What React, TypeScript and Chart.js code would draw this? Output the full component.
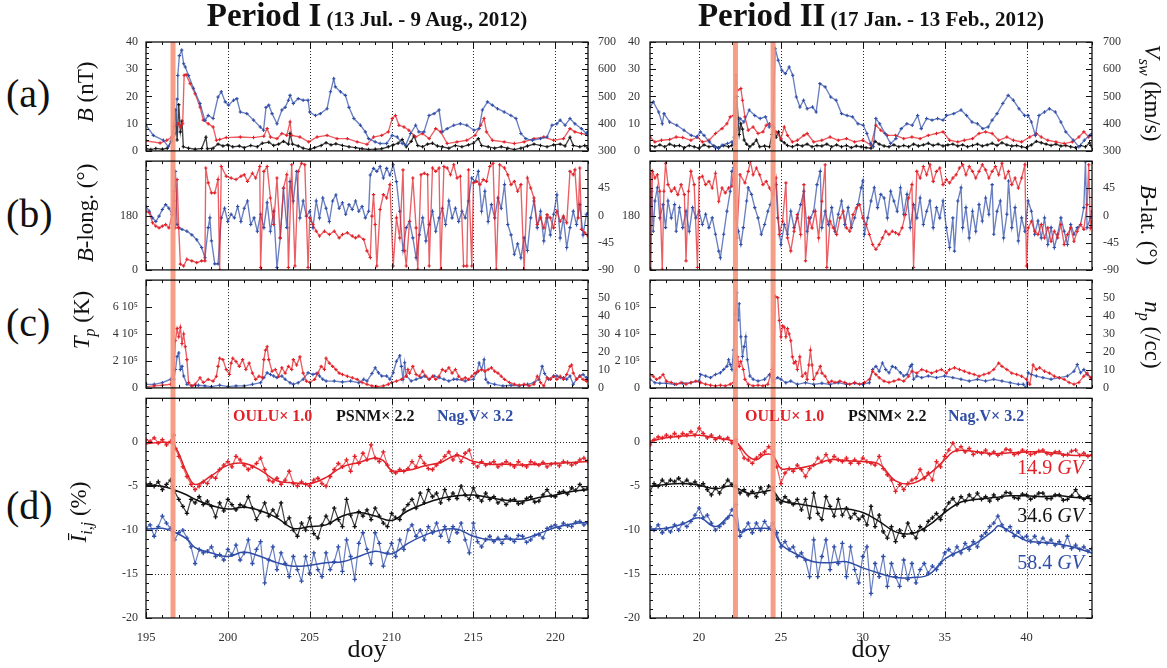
import React, { useEffect, useRef } from 'react';
import { Chart, registerables } from 'chart.js';
Chart.register(...registerables);

type Pt = [number, number];

const FONT = '"Liberation Serif", "Times New Roman", serif';
const RED = 'rgb(226,32,40)';
const RED_L = 'rgba(226,32,40,0.72)';
const BLUE = 'rgb(48,78,168)';
const BLUE_L = 'rgba(48,78,168,0.72)';
const BLACK = 'rgb(17,17,17)';
const BLACK_L = 'rgba(17,17,17,0.8)';
const BAND = 'rgba(244,150,126,0.92)';

// ---------------- Period I (doy 195-222) ----------------
const daysI: [number, number] = [195, 222];
const eventsI = [196.65];

const vswI: Pt[] = [[195.0,395],[195.45,357],[196.06,339],[196.37,315],[196.57,340],[196.8,364],[196.9,490],[196.94,577],[197.04,650],[197.18,670],[197.3,620],[197.4,608],[197.6,577],[197.9,530],[198.3,474],[198.6,412],[198.8,430],[199.1,419],[199.4,498],[199.6,517],[199.84,480],[200.04,468],[200.35,486],[200.55,492],[200.76,443],[201.16,437],[201.57,413],[201.98,388],[202.18,376],[202.33,460],[202.5,468],[202.7,437],[203.0,400],[203.3,450],[203.5,460],[203.7,486],[203.8,504],[204.0,474],[204.3,492],[204.6,486],[204.9,486],[205.0,443],[205.35,430],[205.65,437],[206.06,455],[206.27,517],[206.47,565],[206.57,535],[206.88,517],[207.18,504],[207.4,460],[207.7,419],[208.1,394],[208.4,370],[208.6,345],[209.0,333],[209.3,327],[209.7,327],[210.04,357],[210.35,351],[210.65,327],[210.86,320],[211.16,364],[211.47,394],[211.67,370],[211.98,370],[212.29,430],[212.6,437],[212.9,450],[213.1,370],[213.4,382],[213.8,394],[214.2,400],[214.6,394],[215.04,376],[215.35,382],[215.55,450],[215.86,480],[216.16,468],[216.47,455],[216.88,443],[217.29,430],[217.6,419],[217.9,364],[218.2,345],[218.6,339],[219.1,345],[219.5,351],[219.8,394],[220.1,400],[220.3,413],[220.6,394],[220.9,419],[221.2,400],[221.6,382],[221.9,364],[222.0,370]];

const bI: Pt[] = [[195.0,3.7],[195.86,2.9],[196.27,3.9],[196.57,5.1],[196.78,9.4],[196.98,10],[197.1,8.8],[197.24,10],[197.33,27.8],[197.45,28],[197.7,24.7],[198.0,21],[198.3,16.1],[198.5,11.3],[198.8,10],[199.1,8.8],[199.3,3.9],[199.5,4.2],[199.9,4.9],[200.76,5.1],[201.57,4.9],[202.2,5.4],[202.4,8.2],[202.6,5.1],[203.0,4.5],[203.3,6.4],[203.6,5.7],[203.8,10.6],[203.9,5.7],[204.4,5.1],[204.94,3.3],[205.45,5.1],[206.06,5.7],[206.67,4.5],[207.3,4.5],[207.9,3.3],[208.5,2.4],[208.9,5.1],[209.4,5.7],[209.8,7],[210.04,11.9],[210.24,13],[210.45,9.4],[210.76,8.8],[211.06,7.6],[211.47,5.1],[211.88,6.4],[212.3,4.5],[212.7,8.2],[213.0,7],[213.4,2.7],[214.0,3.3],[214.6,3.9],[215.1,5.7],[215.45,9.4],[215.65,11.9],[215.8,7],[216.16,3.9],[216.88,3.3],[217.5,2.7],[218.1,3.3],[218.7,4.5],[219.3,5.1],[219.9,3.9],[220.5,4.5],[220.9,8.2],[221.2,7],[221.6,6.4],[222.0,5.7]];

const dbI: Pt[] = [[195.0,0.8],[195.3,0.5],[195.6,0.9],[196.0,0.6],[196.3,1.0],[196.55,3.5],[196.7,9],[196.8,15],[196.9,4],[197.0,17],[197.1,7],[197.2,11],[197.28,1.5],[197.6,1.0],[198.0,0.6],[198.4,0.9],[198.66,5],[198.75,0.8],[199.1,1.0],[199.4,2.5],[199.7,1.8],[200.0,2.2],[200.3,1.5],[200.7,1.8],[201.0,1.2],[201.4,2.0],[201.8,1.5],[202.1,2.8],[202.5,3.2],[202.8,2.0],[203.1,2.5],[203.4,3.5],[203.7,2.5],[203.8,6.4],[203.95,2.5],[204.3,1.8],[204.6,1.0],[205.0,0.5],[205.3,1.2],[205.7,2.0],[206.0,3.0],[206.3,2.2],[206.6,2.6],[207.0,2.0],[207.4,1.5],[207.8,1.2],[208.2,0.8],[208.6,0.5],[209.0,0.6],[209.4,0.8],[209.8,1.5],[210.1,2.2],[210.4,2.8],[210.65,4.2],[210.9,1.5],[211.2,3.5],[211.37,5.5],[211.6,2.0],[211.9,1.5],[212.2,2.5],[212.5,2.8],[212.8,1.8],[213.1,1.5],[213.5,1.0],[213.9,2.0],[214.3,1.5],[214.7,2.2],[215.0,2.8],[215.3,4.5],[215.5,2.0],[215.9,1.5],[216.3,1.0],[216.7,1.5],[217.1,1.0],[217.5,0.5],[217.9,1.0],[218.3,1.8],[218.7,2.5],[219.1,2.0],[219.5,1.5],[219.9,2.2],[220.3,2.5],[220.6,1.8],[220.9,5],[221.1,2.0],[221.5,1.5],[221.8,2.0],[222.0,1.0]];

const bLongI: Pt[] = [[195.0,194],[195.2,189],[195.4,156],[195.6,145],[195.8,139],[196.0,145],[196.2,150],[196.4,139],[196.6,183],[196.7,260],[196.8,139],[196.9,299],[197.0,139],[197.1,19],[197.3,13],[197.5,35],[197.8,30],[198.1,24],[198.4,30],[198.6,30],[198.65,337],[198.8,288],[199.0,255],[199.2,255],[199.4,299],[199.5,0],[199.6,342],[199.9,310],[200.2,304],[200.5,299],[200.8,310],[201.0,315],[201.2,293],[201.5,320],[201.7,304],[201.95,342],[202.0,8],[202.2,326],[202.4,342],[202.6,238],[202.8,150],[203.0,304],[203.2,106],[203.4,271],[203.6,315],[203.7,8],[203.9,348],[204.1,13],[204.3,326],[204.5,353],[204.7,348],[204.9,8],[205.0,172],[205.2,150],[205.4,128],[205.6,112],[205.9,128],[206.2,117],[206.5,128],[206.8,106],[207.0,117],[207.3,123],[207.6,112],[207.8,106],[208.0,112],[208.3,101],[208.5,63],[208.7,41],[208.8,178],[208.9,249],[209.0,150],[209.1,13],[209.3,200],[209.5,249],[209.7,238],[209.9,282],[210.1,13],[210.3,172],[210.5,106],[210.7,331],[210.8,63],[210.9,13],[211.1,161],[211.3,304],[211.5,139],[211.6,2],[211.8,315],[212.0,320],[212.2,315],[212.3,13],[212.5,337],[212.7,326],[212.9,337],[213.0,2],[213.2,342],[213.4,337],[213.6,315],[213.8,348],[214.0,304],[214.2,310],[214.4,13],[214.6,13],[214.7,331],[214.9,13],[215.0,288],[215.2,293],[215.4,282],[215.6,299],[215.8,293],[216.0,342],[216.2,353],[216.4,2],[216.6,348],[216.9,337],[217.1,315],[217.3,282],[217.5,293],[217.7,260],[217.9,282],[218.1,0],[218.3,304],[218.5,271],[218.7,238],[218.9,150],[219.1,172],[219.3,139],[219.5,183],[219.7,172],[219.9,139],[220.1,194],[220.3,161],[220.5,178],[220.7,156],[220.9,326],[221.1,315],[221.2,331],[221.4,172],[221.5,337],[221.6,134],[221.8,123],[222.0,112]];

const bLatI: Pt[] = [[195.0,15],[195.2,7],[195.4,-4],[195.6,-10],[195.8,-1],[196.0,10],[196.2,18],[196.4,12],[196.6,2],[196.7,24],[196.8,73],[196.9,-15],[197.0,-20],[197.2,-23],[197.5,-26],[197.8,-32],[198.1,-40],[198.4,-53],[198.6,-70],[198.8,-20],[198.9,-4],[199.0,-42],[199.2,-80],[199.4,-80],[199.6,-4],[199.8,12],[200.0,-10],[200.2,2],[200.4,-4],[200.6,15],[200.8,-10],[201.0,12],[201.2,24],[201.4,-15],[201.6,-4],[201.8,-26],[202.0,2],[202.2,-20],[202.4,21],[202.6,-26],[202.8,7],[203.0,-86],[203.2,-37],[203.4,45],[203.6,-20],[203.8,56],[204.0,24],[204.2,73],[204.4,-4],[204.6,24],[204.8,-1],[205.0,7],[205.2,-20],[205.4,24],[205.6,-4],[205.8,29],[206.0,12],[206.2,-10],[206.4,24],[206.6,34],[206.8,12],[207.0,21],[207.2,2],[207.4,18],[207.6,10],[207.8,24],[208.0,7],[208.2,15],[208.4,-4],[208.6,7],[208.7,67],[208.9,78],[209.1,73],[209.3,81],[209.5,62],[209.7,78],[209.9,67],[210.1,84],[210.3,56],[210.5,7],[210.7,-58],[210.9,-20],[211.1,-10],[211.3,-37],[211.5,-70],[211.7,-32],[211.9,-4],[212.1,-42],[212.3,-15],[212.5,7],[212.7,-26],[212.9,-4],[213.1,12],[213.3,-15],[213.5,24],[213.7,-4],[213.9,12],[214.1,-10],[214.3,7],[214.5,-4],[214.7,24],[214.9,62],[215.1,56],[215.3,73],[215.5,7],[215.7,40],[215.9,-10],[216.1,18],[216.3,-4],[216.5,29],[216.7,12],[216.9,51],[217.1,-15],[217.3,-32],[217.5,-64],[217.7,-47],[217.9,-70],[218.1,-37],[218.3,-58],[218.5,-4],[218.7,24],[218.9,-20],[219.1,7],[219.3,-42],[219.5,-4],[219.7,-32],[219.9,2],[220.1,34],[220.3,-37],[220.5,-4],[220.7,-53],[220.9,-20],[221.1,7],[221.3,-15],[221.5,18],[221.7,-32],[221.9,2],[222.0,4]];

const tpI: Pt[] = [[195.0,0.1e5],[195.5,0.15e5],[196.0,0.2e5],[196.5,0.27e5],[196.7,1.36e5],[196.8,3.5e5],[196.9,4.4e5],[197.0,3.8e5],[197.1,4.5e5],[197.2,3.3e5],[197.3,4.0e5],[197.4,3.05e5],[197.5,2.1e5],[197.6,0.4e5],[197.8,0.15e5],[198.0,0.27e5],[198.3,0.75e5],[198.5,0.4e5],[198.8,0.63e5],[199.1,0.5e5],[199.3,0.87e5],[199.4,1.6e5],[199.5,2.2e5],[199.7,2.1e5],[199.9,1.36e5],[200.1,1.0e5],[200.2,1.84e5],[200.3,2.2e5],[200.5,1.96e5],[200.7,1.6e5],[200.9,2.1e5],[201.1,1.36e5],[201.3,1.84e5],[201.5,1.1e5],[201.7,0.63e5],[201.9,0.87e5],[202.1,0.75e5],[202.2,2.1e5],[202.3,2.8e5],[202.4,3.05e5],[202.5,2.1e5],[202.7,1.24e5],[202.9,1.36e5],[203.1,0.87e5],[203.3,1.5e5],[203.5,1.1e5],[203.7,1.6e5],[203.9,1.36e5],[204.0,2.1e5],[204.2,1.7e5],[204.4,2.3e5],[204.6,1.1e5],[204.8,0.5e5],[205.0,0.4e5],[205.3,0.63e5],[205.5,1.1e5],[205.7,1.6e5],[205.9,1.36e5],[206.0,2.2e5],[206.2,1.84e5],[206.4,1.6e5],[206.6,1.36e5],[206.8,1.1e5],[207.0,1.0e5],[207.3,0.87e5],[207.6,0.75e5],[207.9,0.63e5],[208.2,0.4e5],[208.5,0.27e5],[208.8,0.15e5],[209.1,0.1e5],[209.5,0.15e5],[209.8,0.27e5],[210.0,0.4e5],[210.3,0.5e5],[210.6,0.63e5],[210.9,0.87e5],[211.0,1.36e5],[211.1,1.1e5],[211.3,1.6e5],[211.5,1.0e5],[211.7,0.87e5],[211.9,1.24e5],[212.1,0.87e5],[212.3,0.63e5],[212.5,0.87e5],[212.7,0.63e5],[212.9,0.87e5],[213.1,1.36e5],[213.3,1.24e5],[213.5,1.5e5],[213.7,1.1e5],[213.9,1.36e5],[214.1,0.87e5],[214.3,0.63e5],[214.5,0.75e5],[214.7,0.63e5],[214.9,0.87e5],[215.1,1.1e5],[215.3,1.24e5],[215.5,1.36e5],[215.7,1.24e5],[215.9,1.36e5],[216.1,1.5e5],[216.3,1.24e5],[216.5,1.1e5],[216.7,0.87e5],[216.9,0.63e5],[217.2,0.4e5],[217.5,0.27e5],[217.8,0.2e5],[218.1,0.27e5],[218.4,0.15e5],[218.7,0.27e5],[218.9,0.87e5],[219.1,0.4e5],[219.3,0.15e5],[219.5,0.75e5],[219.7,0.63e5],[219.9,0.87e5],[220.1,0.63e5],[220.3,0.87e5],[220.5,0.63e5],[220.7,1.0e5],[220.9,1.6e5],[221.0,1.7e5],[221.1,1.1e5],[221.3,0.63e5],[221.5,0.87e5],[221.7,0.63e5],[221.9,0.5e5],[222.0,0.63e5]];

const npI: Pt[] = [[195.0,2.0],[195.5,2.0],[196.0,2.9],[196.5,4.8],[196.7,4.8],[196.8,10.2],[196.9,17.5],[197.0,19.4],[197.1,10.2],[197.2,12],[197.3,6.6],[197.5,2.0],[197.8,1.1],[198.2,1.5],[198.6,1.1],[199.0,0.7],[199.5,1.5],[200.0,0.7],[200.5,1.1],[201.0,1.1],[201.5,2.0],[202.0,2.9],[202.2,5.7],[202.4,8.4],[202.6,7.5],[202.8,6.6],[203.0,5.7],[203.3,6.6],[203.5,4.8],[203.8,2.9],[204.0,2.0],[204.3,2.9],[204.6,4.8],[204.9,8.4],[205.2,7.5],[205.4,8.0],[205.6,6.6],[205.8,4.8],[206.0,3.8],[206.5,3.8],[207.0,3.3],[207.5,3.8],[208.0,2.9],[208.3,4.8],[208.5,3.8],[208.8,8.0],[209.0,11.2],[209.2,8.4],[209.4,6.6],[209.7,6.6],[209.9,4.8],[210.1,8.4],[210.3,14.8],[210.5,17.9],[210.6,12],[210.7,4.8],[210.8,14],[210.9,6.6],[211.2,3.8],[211.5,4.8],[211.8,5.7],[212.0,6.6],[212.3,4.8],[212.6,6.6],[212.9,5.7],[213.2,4.8],[213.5,3.8],[213.8,4.8],[214.0,4.8],[214.5,3.8],[215.0,4.8],[215.2,8.4],[215.35,13.9],[215.5,10.2],[215.65,15.7],[215.75,4.8],[215.9,2.9],[216.3,2.0],[216.8,1.1],[217.3,1.5],[217.8,1.1],[218.3,2.0],[218.7,2.9],[219.0,4.8],[219.2,12],[219.35,8],[219.6,4.8],[219.9,6.6],[220.1,6.6],[220.3,5.7],[220.5,5.7],[220.7,4.8],[220.9,6.6],[221.1,2.0],[221.3,4.8],[221.5,6.6],[221.7,7.5],[221.9,5.7],[222.0,4.8]];

const ouluI: Pt[] = [[195.0,0.3],[195.25,0.1],[195.5,0.5],[195.75,-0.1],[196.0,0.3],[196.25,-0.3],[196.5,0.1],[196.7,0.8],[196.8,-0.7],[197.0,-1.6],[197.25,-2.8],[197.5,-3.9],[197.75,-4.8],[198.0,-5.4],[198.25,-5.0],[198.5,-4.5],[198.75,-4.7],[199.0,-3.9],[199.25,-4.1],[199.5,-3.1],[199.75,-2.6],[200.0,-2.2],[200.25,-2.8],[200.5,-1.6],[200.75,-2.0],[201.0,-2.6],[201.25,-3.1],[201.5,-2.8],[201.75,-2.4],[202.0,-1.8],[202.25,-3.1],[202.5,-4.3],[202.75,-4.5],[203.0,-4.1],[203.25,-4.8],[203.5,-4.3],[203.75,-3.3],[204.0,-4.7],[204.25,-5.0],[204.5,-4.5],[204.75,-4.8],[205.0,-5.0],[205.25,-4.3],[205.5,-4.1],[205.75,-4.7],[206.0,-5.0],[206.25,-3.9],[206.5,-3.1],[206.75,-2.4],[207.0,-2.8],[207.25,-2.0],[207.5,-3.3],[207.75,-1.6],[208.0,-2.4],[208.25,-1.25],[208.5,-2.0],[208.75,-0.3],[209.0,-1.8],[209.25,-2.2],[209.5,-1.1],[209.75,-2.6],[210.0,-3.3],[210.25,-3.5],[210.5,-3.1],[210.75,-3.3],[211.0,-3.0],[211.25,-2.2],[211.5,-2.8],[211.75,-1.6],[212.0,-2.4],[212.25,-3.0],[212.5,-3.1],[212.75,-2.6],[213.0,-2.2],[213.25,-1.6],[213.5,-1.1],[213.75,-2.0],[214.0,-1.4],[214.25,-2.2],[214.5,-1.25],[214.75,-0.9],[215.0,-2.4],[215.25,-2.8],[215.5,-2.2],[215.75,-2.6],[216.0,-2.4],[216.25,-2.2],[216.5,-2.8],[216.75,-2.5],[217.0,-2.2],[217.25,-2.5],[217.5,-2.8],[217.75,-2.2],[218.0,-2.6],[218.25,-2.8],[218.5,-2.2],[218.75,-2.4],[219.0,-2.6],[219.25,-2.3],[219.5,-2.8],[219.75,-2.5],[220.0,-2.4],[220.25,-2.7],[220.5,-2.2],[220.75,-2.3],[221.0,-2.6],[221.25,-2.4],[221.5,-2.0],[221.75,-1.8],[222.0,-2.2]];
const ouluSmI: Pt[] = [[195,-0.2],[196,0],[196.7,-0.3],[197.5,-3.5],[198,-4.8],[199,-3.8],[200,-2.6],[201,-2.4],[202,-3.2],[203,-4.4],[204,-4.6],[205,-4.7],[206,-4.0],[207,-2.8],[208,-2.3],[209,-1.8],[209.5,-2.1],[210,-3.2],[211,-3.2],[212,-2.7],[213,-2.3],[214,-1.5],[215,-2.2],[216,-2.5],[217,-2.5],[218,-2.6],[219,-2.5],[220,-2.4],[221,-2.3],[222,-2.2]];

const psnmI: Pt[] = [[195.0,-4.8],[195.25,-4.7],[195.5,-5.0],[195.75,-4.5],[196.0,-5.4],[196.25,-4.8],[196.5,-4.3],[196.75,-5.6],[197.0,-6.5],[197.25,-7.3],[197.5,-8.1],[197.75,-6.5],[198.0,-6.9],[198.25,-6.2],[198.5,-7.1],[198.75,-6.7],[199.0,-7.3],[199.25,-8.5],[199.5,-6.9],[199.75,-7.8],[200.0,-6.5],[200.25,-7.1],[200.5,-7.7],[200.75,-7.1],[201.0,-7.3],[201.25,-6.2],[201.5,-7.5],[201.75,-8.8],[202.0,-7.9],[202.25,-6.9],[202.5,-8.4],[202.75,-7.7],[203.0,-8.4],[203.25,-6.9],[203.5,-9.2],[203.75,-8.6],[204.0,-10.0],[204.25,-10.7],[204.5,-9.2],[204.75,-10.0],[205.0,-8.6],[205.25,-10.4],[205.5,-10.9],[205.75,-9.4],[206.0,-8.4],[206.25,-9.2],[206.5,-7.5],[206.75,-8.8],[207.0,-9.6],[207.25,-6.5],[207.5,-8.3],[207.75,-9.6],[208.0,-7.9],[208.25,-8.4],[208.5,-7.7],[208.75,-8.8],[209.0,-7.5],[209.25,-8.4],[209.5,-9.2],[209.75,-9.6],[210.0,-8.1],[210.25,-8.6],[210.5,-8.8],[210.75,-7.7],[211.0,-7.1],[211.25,-6.5],[211.5,-7.5],[211.75,-5.8],[212.0,-6.9],[212.25,-5.4],[212.5,-6.2],[212.75,-5.8],[213.0,-6.9],[213.25,-5.4],[213.5,-6.5],[213.75,-5.8],[214.0,-6.4],[214.25,-5.0],[214.5,-6.0],[214.75,-6.5],[215.0,-5.2],[215.25,-6.2],[215.5,-6.7],[215.75,-5.8],[216.0,-6.5],[216.25,-6.2],[216.5,-6.9],[216.75,-6.5],[217.0,-7.1],[217.25,-6.6],[217.5,-6.5],[217.75,-7.0],[218.0,-6.9],[218.25,-6.4],[218.5,-6.2],[218.75,-6.8],[219.0,-6.7],[219.25,-6.0],[219.5,-5.4],[219.75,-6.1],[220.0,-6.2],[220.25,-5.7],[220.5,-5.6],[220.75,-5.9],[221.0,-5.2],[221.25,-5.5],[221.5,-4.8],[221.75,-5.4],[222.0,-5.2]];
const psnmSmI: Pt[] = [[195,-4.9],[196,-5.0],[196.7,-5.4],[197.5,-6.0],[198,-6.5],[199,-7.2],[200,-7.6],[201,-7.4],[202,-7.8],[203,-8.6],[204,-9.8],[205,-9.6],[206,-9.4],[207,-8.4],[208,-8.0],[209,-8.4],[210,-8.9],[211,-7.8],[212,-7.0],[213,-6.4],[214,-6.1],[215,-6.0],[216,-6.3],[217,-6.6],[218,-6.7],[219,-6.3],[220,-6.0],[221,-5.6],[222,-5.4]];

const nagI: Pt[] = [[195.0,-9.8],[195.25,-9.4],[195.5,-10.7],[195.75,-9.6],[196.0,-8.4],[196.25,-9.2],[196.5,-9.8],[196.75,-11.1],[197.0,-10.3],[197.25,-10.0],[197.5,-10.9],[197.75,-11.9],[198.0,-13.8],[198.25,-12.2],[198.5,-12.6],[198.75,-12.4],[199.0,-11.9],[199.25,-13.0],[199.5,-12.8],[199.75,-13.4],[200.0,-12.2],[200.25,-12.8],[200.5,-11.7],[200.75,-13.4],[201.0,-12.6],[201.25,-11.1],[201.5,-13.8],[201.75,-12.2],[202.0,-11.3],[202.25,-16.0],[202.5,-13.4],[202.75,-11.9],[203.0,-14.5],[203.25,-12.6],[203.5,-13.8],[203.75,-15.3],[204.0,-13.0],[204.25,-14.5],[204.5,-15.8],[204.75,-13.0],[205.0,-14.9],[205.25,-12.6],[205.5,-14.5],[205.75,-15.3],[206.0,-12.6],[206.25,-14.5],[206.5,-13.6],[206.75,-11.9],[207.0,-14.7],[207.25,-11.1],[207.5,-13.0],[207.75,-15.6],[208.0,-11.5],[208.25,-10.3],[208.5,-12.2],[208.75,-13.8],[209.0,-10.3],[209.25,-11.5],[209.5,-14.1],[209.75,-12.6],[210.0,-11.5],[210.25,-13.0],[210.5,-11.1],[210.75,-12.2],[211.0,-10.0],[211.25,-9.4],[211.5,-10.7],[211.75,-10.0],[212.0,-11.1],[212.25,-9.6],[212.5,-10.3],[212.75,-9.2],[213.0,-10.7],[213.25,-9.6],[213.5,-11.3],[213.75,-9.6],[214.0,-10.3],[214.25,-9.2],[214.5,-11.1],[214.75,-12.6],[215.0,-9.2],[215.25,-11.3],[215.5,-11.9],[215.75,-11.1],[216.0,-10.7],[216.25,-11.3],[216.5,-10.9],[216.75,-11.5],[217.0,-10.7],[217.25,-11.0],[217.5,-11.3],[217.75,-10.6],[218.0,-10.7],[218.25,-11.4],[218.5,-11.1],[218.75,-10.6],[219.0,-10.5],[219.25,-10.9],[219.5,-9.8],[219.75,-9.6],[220.0,-9.4],[220.25,-9.8],[220.5,-9.2],[220.75,-9.5],[221.0,-9.6],[221.25,-9.1],[221.5,-9.0],[221.75,-9.4],[222.0,-9.2]];
const nagSmI: Pt[] = [[195,-9.9],[196,-9.8],[196.7,-10.2],[197.5,-11.0],[198,-12.0],[199,-12.6],[200,-13.0],[201,-12.5],[202,-13.0],[203,-13.7],[204,-14.1],[205,-14.0],[206,-13.7],[207,-13.6],[208,-13.0],[209,-12.4],[210,-12.7],[211,-11.5],[212,-10.6],[213,-10.0],[214,-9.9],[215,-10.7],[216,-11.1],[217,-11.0],[218,-11.0],[219,-10.4],[220,-9.7],[221,-9.3],[222,-9.1]];

// ---------------- Period II (doy 17-44) ----------------
const daysII: [number, number] = [17, 44];
const eventsII = [22.22, 24.52];

const vswII: Pt[] = [[17.0,461],[17.2,480],[17.53,443],[17.75,400],[17.86,437],[18.2,406],[18.64,394],[19.08,376],[19.52,357],[19.85,351],[20.08,370],[20.3,357],[20.63,333],[20.96,315],[21.18,309],[21.4,321],[21.73,327],[22.0,333],[22.13,324],[22.29,376],[22.5,419],[22.73,406],[23.06,450],[23.4,430],[23.73,419],[24.06,425],[24.28,388],[24.5,394],[24.65,675],[24.83,633],[25.05,596],[25.27,584],[25.5,608],[25.72,578],[25.94,498],[26.16,461],[26.38,486],[26.6,455],[26.93,461],[27.15,443],[27.38,547],[27.7,535],[28.04,498],[28.37,486],[28.7,437],[29.04,430],[29.37,425],[29.7,400],[30.03,394],[30.25,364],[30.47,327],[30.65,315],[30.8,419],[31.03,400],[31.36,364],[31.7,327],[32.02,345],[32.35,382],[32.69,400],[33.02,394],[33.35,430],[33.57,382],[33.9,419],[34.23,413],[34.57,419],[34.9,413],[35.12,430],[35.56,437],[36.0,450],[36.34,430],[36.67,406],[37.0,400],[37.33,382],[37.66,388],[37.9,413],[38.2,437],[38.55,474],[38.88,504],[39.2,486],[39.54,455],[39.88,430],[40.1,430],[40.3,406],[40.54,357],[40.76,430],[41.1,443],[41.4,455],[41.76,443],[42.1,406],[42.4,370],[42.86,339],[43.2,315],[43.53,339],[43.86,357],[44.0,364]];

const bII: Pt[] = [[17.0,5.1],[17.3,3.3],[17.7,3.9],[18.2,4.2],[18.6,5.1],[19.0,4.9],[19.5,3.9],[19.9,5.1],[20.2,3.3],[20.6,3.9],[21.0,6.4],[21.4,8.2],[21.7,10],[21.9,12.5],[22.1,13],[22.25,27.8],[22.35,22.3],[22.55,22.9],[22.65,18.6],[22.8,12.5],[23.0,7.6],[23.3,8.8],[23.6,6.4],[23.9,7],[24.1,9.4],[24.3,10],[24.5,8.8],[24.7,7],[25.0,4.5],[25.2,8.8],[25.4,5.7],[25.7,3.3],[26.0,3.9],[26.4,5.7],[26.6,6.4],[27.0,3.3],[27.5,3.9],[28.0,5.1],[28.5,3.9],[29.0,4.5],[29.5,3.3],[30.0,3.9],[30.5,2.1],[30.8,9.4],[31.1,7.6],[31.5,5.7],[32.0,5.7],[32.5,4.5],[33.0,5.1],[33.5,4.5],[34.0,5.7],[34.5,6.4],[34.9,7],[35.3,3.9],[35.8,3.3],[36.2,3.9],[36.7,4.5],[37.1,6.4],[37.5,7],[37.9,6.4],[38.3,3.9],[38.8,5.1],[39.2,3.9],[39.7,3.3],[40.2,5.1],[40.6,6.4],[40.9,5.1],[41.3,3.9],[41.8,3.3],[42.3,2.7],[42.8,3.3],[43.2,5.1],[43.5,7],[43.8,5.1],[44.0,5.7]];

const dbII: Pt[] = [[17.0,2.0],[17.3,1.5],[17.6,2.2],[17.9,1.5],[18.2,2.5],[18.5,1.8],[18.8,2.0],[19.1,1.2],[19.4,2.0],[19.7,1.5],[20.0,1.0],[20.3,2.2],[20.6,1.5],[20.9,1.8],[21.2,1.2],[21.5,2.0],[21.8,1.5],[22.0,2.0],[22.15,5],[22.3,20],[22.38,12],[22.45,6],[22.55,10],[22.65,8],[22.75,4],[22.9,2.5],[23.1,1.5],[23.3,2.5],[23.5,4],[23.7,1.5],[24.0,1.8],[24.3,1.5],[24.45,6],[24.55,8.5],[24.7,5],[24.85,7],[25.0,4],[25.2,3],[25.4,2],[25.7,1.5],[26.0,2.2],[26.3,1.8],[26.6,2.5],[26.9,1.5],[27.2,2.0],[27.5,1.8],[27.8,2.5],[28.1,1.5],[28.4,2.2],[28.7,1.5],[29.0,2.0],[29.3,1.2],[29.6,1.8],[29.9,1.5],[30.2,1.2],[30.5,1.0],[30.75,3.5],[31.0,2.5],[31.3,1.8],[31.6,1.5],[31.9,2.2],[32.2,1.5],[32.5,2.0],[32.8,1.5],[33.1,2.5],[33.4,1.8],[33.7,2.2],[34.0,2.8],[34.3,2.0],[34.6,2.5],[34.9,1.8],[35.2,2.2],[35.5,2.5],[35.8,1.8],[36.1,2.2],[36.4,1.5],[36.7,2.0],[37.0,2.5],[37.3,1.8],[37.6,2.2],[37.9,2.8],[38.2,2.0],[38.5,3.0],[38.8,2.2],[39.1,1.8],[39.4,2.0],[39.7,1.5],[40.0,1.2],[40.3,2.2],[40.6,3.5],[40.9,3.0],[41.2,2.5],[41.5,2.0],[41.8,2.5],[42.1,1.8],[42.4,2.0],[42.7,1.5],[43.0,1.2],[43.3,2.0],[43.6,1.5],[43.85,3.0],[44.0,1.5]];

const bLongII: Pt[] = [[17.0,320],[17.05,2],[17.15,326],[17.3,304],[17.45,315],[17.6,260],[17.75,2],[17.85,260],[17.95,353],[18.1,282],[18.3,260],[18.5,271],[18.7,249],[18.9,282],[19.1,249],[19.2,30],[19.35,260],[19.5,326],[19.7,282],[19.9,8],[20.0,304],[20.2,310],[20.4,282],[20.6,293],[20.8,271],[21.0,320],[21.2,227],[21.4,271],[21.6,255],[21.8,271],[22.0,277],[22.15,348],[22.3,106],[22.5,315],[22.8,288],[23.0,326],[23.13,359],[23.3,315],[23.5,337],[23.7,315],[23.9,282],[24.1,293],[24.3,271],[24.5,249],[24.7,304],[24.9,117],[25.1,161],[25.3,288],[25.4,106],[25.6,63],[25.8,128],[26.0,183],[26.2,117],[26.4,282],[26.5,30],[26.7,172],[26.9,139],[27.1,194],[27.3,106],[27.5,227],[27.7,348],[27.8,8],[28.0,161],[28.2,139],[28.4,117],[28.6,172],[28.8,194],[29.0,139],[29.2,128],[29.4,183],[29.6,205],[29.8,216],[30.0,172],[30.2,150],[30.4,117],[30.6,84],[30.8,68],[31.0,84],[31.2,106],[31.4,128],[31.6,117],[31.8,128],[32.0,123],[32.2,117],[32.4,139],[32.6,183],[32.8,238],[33.0,282],[33.1,8],[33.3,326],[33.5,304],[33.7,342],[33.9,315],[34.1,348],[34.3,293],[34.5,326],[34.7,337],[34.9,282],[35.1,299],[35.3,288],[35.5,304],[35.7,315],[35.9,337],[36.1,348],[36.3,315],[36.5,342],[36.7,326],[36.9,304],[37.1,326],[37.3,348],[37.5,331],[37.7,304],[37.9,326],[38.1,342],[38.3,315],[38.5,353],[38.7,304],[38.9,326],[39.1,282],[39.3,304],[39.5,271],[39.7,304],[39.9,348],[40.0,13],[40.1,139],[40.3,161],[40.5,128],[40.7,117],[40.9,150],[41.1,106],[41.3,139],[41.5,95],[41.7,128],[41.9,106],[42.1,150],[42.3,84],[42.5,117],[42.7,139],[42.9,95],[43.1,128],[43.3,150],[43.5,134],[43.7,216],[43.8,348],[43.9,139],[44.0,161]];

const bLatII: Pt[] = [[17.0,2],[17.1,40],[17.2,-26],[17.3,24],[17.45,46],[17.6,-4],[17.8,18],[17.95,-20],[18.1,24],[18.3,-4],[18.5,18],[18.6,-26],[18.8,13],[19.0,-20],[19.2,7],[19.4,-26],[19.6,13],[19.8,-4],[20.0,7],[20.2,-15],[20.4,2],[20.6,-20],[20.8,-4],[21.0,-31],[21.2,-59],[21.3,-70],[21.5,-31],[21.7,7],[21.9,40],[22.0,73],[22.1,79],[22.25,-4],[22.4,-26],[22.55,-48],[22.7,-20],[22.9,24],[23.0,46],[23.2,35],[23.4,13],[23.6,-4],[23.8,-31],[24.0,-15],[24.2,7],[24.35,18],[24.5,35],[24.7,51],[24.8,-4],[25.0,-48],[25.2,-15],[25.4,-31],[25.6,7],[25.8,-20],[26.0,-4],[26.2,18],[26.4,40],[26.6,-26],[26.8,-4],[27.0,7],[27.2,51],[27.4,73],[27.5,-20],[27.7,7],[27.9,-15],[28.1,13],[28.3,-26],[28.5,2],[28.7,24],[28.9,-15],[29.1,13],[29.3,-20],[29.5,-4],[29.7,18],[29.9,46],[30.0,57],[30.1,-31],[30.3,-4],[30.5,24],[30.7,46],[30.9,13],[31.1,35],[31.3,29],[31.5,-4],[31.7,40],[31.9,24],[32.1,7],[32.3,46],[32.5,2],[32.7,35],[32.9,-20],[33.1,18],[33.3,-4],[33.5,29],[33.7,-15],[33.9,7],[34.1,24],[34.3,-20],[34.5,13],[34.7,-4],[34.9,24],[35.1,-20],[35.3,-53],[35.5,-4],[35.6,-59],[35.8,24],[36.0,46],[36.1,-20],[36.3,13],[36.5,-37],[36.7,7],[36.9,-26],[37.1,18],[37.3,-9],[37.5,29],[37.7,2],[37.9,51],[38.0,-31],[38.2,7],[38.4,24],[38.6,-37],[38.8,2],[38.9,57],[39.1,-20],[39.3,13],[39.5,-42],[39.7,-4],[39.9,-26],[40.1,24],[40.3,7],[40.5,-31],[40.7,-9],[40.9,-37],[41.1,-4],[41.3,-48],[41.5,-20],[41.7,-53],[41.9,-31],[42.1,-4],[42.3,-26],[42.5,-48],[42.7,-15],[42.9,-31],[43.1,-20],[43.3,-15],[43.5,13],[43.6,89],[43.7,-20],[43.9,-4],[44.0,7]];

const tpII: Pt[] = [[17.0,1.0e5],[17.2,0.87e5],[17.4,0.63e5],[17.6,0.75e5],[17.8,1.0e5],[18.0,0.5e5],[18.3,0.4e5],[18.6,0.27e5],[18.9,0.4e5],[19.2,0.27e5],[19.5,0.4e5],[19.8,0.5e5],[20.1,0.4e5],[20.4,0.27e5],[20.7,0.2e5],[21.0,0.15e5],[21.3,0.2e5],[21.6,0.15e5],[21.9,0.27e5],[22.1,0.4e5],[22.25,1.36e5],[22.35,2.3e5],[22.45,1.6e5],[22.55,1.96e5],[22.7,1.36e5],[22.8,0.63e5],[23.0,0.27e5],[23.3,0.15e5],[23.6,0.2e5],[23.9,0.15e5],[24.2,0.27e5],[24.45,1.36e5],[24.55,0.4e5],[24.65,6.8e5],[24.8,6.7e5],[24.9,5.0e5],[25.0,3.8e5],[25.1,4.6e5],[25.2,4.5e5],[25.3,3.8e5],[25.4,4.4e5],[25.5,4.0e5],[25.6,3.5e5],[25.7,2.3e5],[25.8,1.84e5],[25.9,1.96e5],[26.0,1.36e5],[26.15,2.3e5],[26.3,0.87e5],[26.5,1.1e5],[26.6,0.63e5],[26.7,1.7e5],[26.8,2.8e5],[26.9,1.7e5],[27.0,0.63e5],[27.2,1.1e5],[27.4,1.6e5],[27.5,1.1e5],[27.7,0.87e5],[27.9,0.4e5],[28.1,0.5e5],[28.3,0.4e5],[28.6,0.5e5],[28.9,0.4e5],[29.2,0.27e5],[29.5,0.4e5],[29.8,0.27e5],[30.1,0.4e5],[30.4,0.63e5],[30.6,1.24e5],[30.8,1.0e5],[31.0,0.75e5],[31.3,0.5e5],[31.6,0.4e5],[31.9,0.5e5],[32.2,0.63e5],[32.5,0.5e5],[32.8,0.87e5],[33.0,1.24e5],[33.3,1.1e5],[33.6,1.36e5],[33.9,1.24e5],[34.2,1.1e5],[34.5,1.24e5],[34.8,1.36e5],[35.1,1.1e5],[35.3,1.36e5],[35.6,1.5e5],[35.9,1.36e5],[36.2,1.24e5],[36.5,1.1e5],[36.8,1.0e5],[37.1,0.87e5],[37.4,1.0e5],[37.7,1.1e5],[38.0,1.36e5],[38.3,1.84e5],[38.5,1.6e5],[38.8,1.36e5],[39.1,1.1e5],[39.4,1.0e5],[39.7,0.87e5],[40.0,0.63e5],[40.2,0.27e5],[40.4,1.7e5],[40.6,1.36e5],[40.8,1.5e5],[41.1,1.24e5],[41.4,1.1e5],[41.7,0.87e5],[42.0,0.75e5],[42.3,0.63e5],[42.6,0.4e5],[42.9,0.27e5],[43.2,0.4e5],[43.5,0.87e5],[43.7,1.1e5],[43.9,0.75e5],[44.0,0.63e5]];

const npII: Pt[] = [[17.0,4.8],[17.3,2.9],[17.6,2.6],[18.0,2.6],[18.5,2.0],[19.0,2.6],[19.5,2.9],[20.0,3.8],[20.1,7.5],[20.4,6.6],[20.7,5.7],[21.0,7.5],[21.3,8.4],[21.5,10.2],[21.7,12],[21.8,15.7],[21.9,13],[22.0,10.2],[22.1,21],[22.2,41],[22.3,53],[22.38,37.7],[22.45,46.8],[22.55,28.5],[22.65,17.5],[22.75,23],[22.85,28.5],[22.95,15.7],[23.1,6.6],[23.3,4.8],[23.6,3.8],[24.0,4.8],[24.3,7.5],[24.5,3.8],[24.8,5.7],[25.0,4.8],[25.3,2.9],[25.6,3.8],[26.0,2.0],[26.5,2.9],[27.0,2.0],[27.5,2.6],[28.0,2.0],[28.5,2.9],[29.0,2.0],[29.5,2.6],[30.0,2.0],[30.4,2.9],[30.6,10.2],[30.8,12],[31.0,9.3],[31.2,13.9],[31.4,10.2],[31.6,8.4],[31.8,12],[32.0,11.2],[32.3,8.4],[32.5,6.6],[32.7,7.5],[32.9,12],[33.0,13],[33.1,4.8],[33.3,6.6],[33.6,5.7],[34.0,6.6],[34.5,5.7],[35.0,6.6],[35.5,5.7],[36.0,4.8],[36.5,3.8],[37.0,4.8],[37.5,3.8],[38.0,4.8],[38.5,3.8],[39.0,2.9],[39.5,2.0],[39.8,2.0],[39.95,0],[40.1,8.4],[40.3,7.5],[40.6,6.6],[41.0,5.7],[41.5,4.8],[42.0,5.7],[42.5,6.6],[42.9,9.3],[43.1,13],[43.3,8.4],[43.5,10.2],[43.7,7.5],[44.0,5.7]];

const ouluII: Pt[] = [[17.0,-0.3],[17.25,0.3],[17.5,0.6],[17.75,0.5],[18.0,0.8],[18.25,0.6],[18.5,1.0],[18.75,0.6],[19.0,1.0],[19.25,0.8],[19.5,1.2],[19.75,0.8],[20.0,1.6],[20.25,1.0],[20.5,0.5],[20.75,0.8],[21.0,0.3],[21.25,0.6],[21.5,0.3],[21.75,0.5],[22.0,-0.1],[22.25,0.3],[22.5,-0.7],[22.75,-1.8],[23.0,-2.0],[23.25,-2.4],[23.5,-1.8],[23.75,-1.4],[24.0,-1.1],[24.25,-0.5],[24.5,-1.1],[24.75,-2.8],[25.0,-4.7],[25.25,-3.5],[25.5,-3.0],[25.75,-3.3],[26.0,-2.6],[26.25,-3.1],[26.5,-3.9],[26.75,-3.0],[27.0,-2.6],[27.25,-1.8],[27.5,-2.2],[27.75,-1.4],[28.0,-2.2],[28.25,-1.6],[28.5,-2.0],[28.75,-2.2],[29.0,-1.8],[29.25,-2.4],[29.5,-2.0],[29.75,-2.4],[30.0,-1.8],[30.25,-2.2],[30.5,-2.4],[30.75,-2.6],[31.0,-1.6],[31.25,-3.0],[31.5,-3.7],[31.75,-4.3],[32.0,-5.6],[32.25,-4.8],[32.5,-5.4],[32.75,-4.7],[33.0,-4.3],[33.25,-4.1],[33.5,-3.1],[33.75,-4.1],[34.0,-3.5],[34.25,-4.3],[34.5,-2.2],[34.75,-2.8],[35.0,-1.6],[35.25,-0.9],[35.5,-0.1],[35.75,-0.9],[36.0,-0.5],[36.25,-1.1],[36.5,-0.7],[36.75,-1.4],[37.0,-1.1],[37.25,-1.25],[37.5,-0.9],[37.75,-1.4],[38.0,-1.1],[38.25,-1.5],[38.5,-1.25],[38.75,-0.8],[39.0,-0.9],[39.25,-1.4],[39.5,-1.25],[39.75,-0.9],[40.0,-1.1],[40.25,-1.4],[40.5,-1.25],[40.75,-1.0],[41.0,-0.9],[41.25,-1.3],[41.5,-1.4],[41.75,-1.1],[42.0,-1.1],[42.25,-1.5],[42.5,-1.4],[42.75,-1.0],[43.0,-0.9],[43.25,-1.5],[43.5,-1.25],[43.75,-1.6],[44.0,-1.4]];
const ouluSmII: Pt[] = [[17,0.1],[18,0.5],[19,0.7],[20,0.8],[21,0.5],[22,0.2],[22.3,0.0],[23,-1.6],[23.5,-2.0],[24,-1.4],[24.5,-1.5],[25,-3.0],[25.5,-3.0],[26,-3.0],[27,-2.6],[28,-2.0],[29,-2.1],[30,-2.2],[31,-2.5],[32,-4.4],[33,-4.7],[34,-3.7],[35,-2.0],[35.5,-1.1],[36,-0.9],[37,-1.1],[38,-1.3],[39,-1.2],[40,-1.1],[41,-1.1],[42,-1.3],[43,-1.5],[44,-1.5]];

const psnmII: Pt[] = [[17.0,-5.6],[17.25,-4.7],[17.5,-5.0],[17.75,-4.3],[18.0,-4.8],[18.25,-4.3],[18.5,-4.5],[18.75,-4.1],[19.0,-4.7],[19.25,-4.3],[19.5,-4.8],[19.75,-4.5],[20.0,-5.0],[20.25,-4.7],[20.5,-5.4],[20.75,-6.0],[21.0,-5.2],[21.25,-5.8],[21.5,-5.0],[21.75,-4.3],[22.0,-4.8],[22.25,-5.0],[22.5,-5.8],[22.75,-5.4],[23.0,-6.0],[23.25,-5.6],[23.5,-6.2],[23.75,-5.2],[24.0,-5.8],[24.25,-5.0],[24.5,-5.2],[24.75,-6.5],[25.0,-6.9],[25.25,-6.2],[25.5,-6.7],[25.75,-7.1],[26.0,-6.5],[26.25,-7.7],[26.5,-6.5],[26.75,-8.6],[27.0,-5.8],[27.25,-8.1],[27.5,-8.8],[27.75,-6.2],[28.0,-7.3],[28.25,-8.4],[28.5,-6.5],[28.75,-8.3],[29.0,-7.5],[29.25,-8.6],[29.5,-8.1],[29.75,-8.8],[30.0,-8.4],[30.25,-9.4],[30.5,-7.3],[30.75,-9.6],[31.0,-8.3],[31.25,-10.2],[31.5,-10.9],[31.75,-9.6],[32.0,-11.3],[32.25,-10.0],[32.5,-10.7],[32.75,-9.2],[33.0,-10.3],[33.25,-10.9],[33.5,-9.6],[33.75,-10.0],[34.0,-9.0],[34.25,-8.6],[34.5,-8.1],[34.75,-8.8],[35.0,-7.7],[35.25,-6.9],[35.5,-6.4],[35.75,-7.1],[36.0,-6.2],[36.25,-6.7],[36.5,-6.0],[36.75,-6.5],[37.0,-5.8],[37.25,-6.5],[37.5,-6.2],[37.75,-6.7],[38.0,-6.0],[38.25,-6.5],[38.5,-6.2],[38.75,-5.7],[39.0,-5.8],[39.25,-6.3],[39.5,-6.4],[39.75,-5.9],[40.0,-6.0],[40.25,-6.5],[40.5,-6.2],[40.75,-5.8],[41.0,-5.8],[41.25,-6.4],[41.5,-6.4],[41.75,-6.0],[42.0,-6.0],[42.25,-6.6],[42.5,-6.5],[42.75,-6.1],[43.0,-5.4],[43.25,-6.2],[43.5,-6.5],[43.75,-6.2],[44.0,-6.7]];
const psnmSmII: Pt[] = [[17,-5.0],[18,-4.8],[19,-4.7],[20,-4.9],[21,-5.3],[22,-5.0],[23,-5.8],[24,-5.6],[24.5,-5.5],[25,-6.6],[26,-7.0],[27,-7.3],[28,-7.6],[29,-7.6],[30,-8.0],[31,-9.0],[32,-10.2],[33,-10.4],[34,-9.5],[35,-8.0],[36,-6.8],[37,-6.5],[38,-6.3],[39,-6.1],[40,-6.1],[41,-6.2],[42,-6.1],[43,-6.3],[44,-6.4]];

const nagII: Pt[] = [[17.0,-9.6],[17.25,-10.0],[17.5,-9.4],[17.75,-10.3],[18.0,-9.8],[18.25,-10.2],[18.5,-9.4],[18.75,-10.0],[19.0,-9.2],[19.25,-9.6],[19.5,-9.0],[19.75,-8.3],[20.0,-7.5],[20.25,-8.6],[20.5,-8.3],[20.75,-9.2],[21.0,-10.0],[21.25,-9.6],[21.5,-9.2],[21.75,-8.6],[22.0,-7.7],[22.25,-7.1],[22.5,-10.7],[22.75,-10.0],[23.0,-9.2],[23.25,-10.3],[23.5,-9.2],[23.75,-10.0],[24.0,-9.0],[24.25,-9.8],[24.5,-9.2],[24.75,-10.3],[25.0,-11.9],[25.25,-11.3],[25.5,-12.2],[25.75,-11.9],[26.0,-13.0],[26.25,-12.6],[26.5,-13.4],[26.75,-15.3],[27.0,-11.1],[27.25,-15.3],[27.5,-13.0],[27.75,-11.1],[28.0,-14.5],[28.25,-11.9],[28.5,-13.8],[28.75,-11.5],[29.0,-15.3],[29.25,-11.9],[29.5,-14.5],[29.75,-16.0],[30.0,-13.0],[30.25,-11.9],[30.5,-17.2],[30.75,-13.8],[31.0,-15.3],[31.25,-13.0],[31.5,-16.4],[31.75,-13.8],[32.0,-15.3],[32.25,-16.4],[32.5,-13.4],[32.75,-15.6],[33.0,-13.8],[33.25,-16.0],[33.5,-14.5],[33.75,-13.8],[34.0,-14.9],[34.25,-14.1],[34.5,-14.5],[34.75,-13.8],[35.0,-12.6],[35.25,-12.2],[35.5,-12.8],[35.75,-11.9],[36.0,-12.6],[36.25,-11.5],[36.5,-12.2],[36.75,-11.3],[37.0,-11.9],[37.25,-10.7],[37.5,-10.3],[37.75,-9.6],[38.0,-9.2],[38.25,-8.4],[38.5,-9.4],[38.75,-10.0],[39.0,-9.6],[39.25,-10.7],[39.5,-10.2],[39.75,-10.9],[40.0,-10.7],[40.25,-11.3],[40.5,-10.7],[40.75,-11.5],[41.0,-10.9],[41.25,-11.5],[41.5,-11.1],[41.75,-11.7],[42.0,-11.3],[42.25,-11.9],[42.5,-10.7],[42.75,-12.1],[43.0,-11.7],[43.25,-12.2],[43.5,-11.9],[43.75,-12.4],[44.0,-12.1]];
const nagSmII: Pt[] = [[17,-9.9],[18,-9.8],[19,-9.3],[20,-8.6],[21,-9.6],[22,-8.3],[22.5,-10.2],[23,-9.9],[24,-9.8],[24.5,-10.0],[25,-11.6],[26,-12.8],[27,-13.6],[28,-13.7],[29,-13.6],[30,-14.3],[31,-14.9],[32,-15.4],[33,-15.4],[34,-15.1],[35,-13.3],[36,-12.3],[37,-11.4],[38,-10.0],[38.3,-9.5],[39,-10.2],[40,-11.2],[41,-11.4],[42,-11.6],[43,-12.0],[44,-12.6]];

// ---------------- axis definitions ----------------
const bTicks = { min: 0, max: 40, step: 10, minor: 2 };
const vTicks = { min: 300, max: 700, step: 100, minor: 20 };
const longTicks = { min: 0, max: 360, step: 180, minor: 30, hide: [360] };
const latTicks = { min: -90, max: 90, step: 45, minor: 15, hide: [90] };
const tpTicks = { min: 0, max: 8e5, step: 2e5, minor: 1e5, hide: [8e5], sci: true };
const npTicks = { min: 0, max: 60, step: 10, minor: 5, hide: [60] };
const iTicks = { min: -20, max: 5, step: 5, minor: 1, hide: [5] };

interface AxisCfg { min: number; max: number; step: number; minor: number; hide?: number[]; sci?: boolean; }
interface Series { data: Pt[]; axis: 'y' | 'y1'; color: string; line: string; kind: 'line' | 'dots' | 'smooth'; }
interface PanelCfg {
  key: string; left: number; top: number; width: number; height: number;
  padTop: number; padBottom: number; yW: number; rW: number; xH: number;
  days: [number, number]; events: number[]; xLabels: boolean; hGrid: boolean;
  yL: AxisCfg; yR?: AxisCfg; bandFromTop: boolean; bandToBottom: boolean;
  series: Series[]; padL: number; padR: number;
}

function fmtTick(ax: AxisCfg, v: number): string {
  if (ax.hide && ax.hide.some((h) => Math.abs(h - v) < 1e-6)) return '';
  if (ax.sci) return v === 0 ? '0' : `${Math.round(v / 1e5)} 10\u2075`;
  return String(v);
}

function makePlugin(cfg: PanelCfg) {
  return {
    id: 'frame_' + cfg.key,
    beforeDatasetsDraw(chart: any) {
      const { ctx, chartArea: a } = chart;
      const xs = chart.scales.x;
      const ys = chart.scales.y;
      ctx.save();
      ctx.strokeStyle = '#222';
      ctx.lineWidth = 1;
      ctx.setLineDash([1, 2]);
      ctx.beginPath();
      for (let v = Math.ceil(cfg.days[0] / 5) * 5; v < cfg.days[1]; v += 5) {
        if (v <= cfg.days[0]) continue;
        const px = Math.round(xs.getPixelForValue(v)) + 0.5;
        ctx.moveTo(px, a.top);
        ctx.lineTo(px, a.bottom);
      }
      if (cfg.hGrid) {
        for (let v = cfg.yL.min + cfg.yL.step; v < cfg.yL.max; v += cfg.yL.step) {
          const py = Math.round(ys.getPixelForValue(v)) + 0.5;
          ctx.moveTo(a.left, py);
          ctx.lineTo(a.right, py);
        }
      }
      ctx.stroke();
      ctx.restore();
    },
    afterDatasetsDraw(chart: any) {
      const { ctx, chartArea: a } = chart;
      const xs = chart.scales.x;
      ctx.save();
      ctx.fillStyle = BAND;
      const top = cfg.bandFromTop ? 0 : a.top;
      const bot = cfg.bandToBottom ? chart.height : a.bottom;
      for (const e of cfg.events) {
        const px = xs.getPixelForValue(e);
        ctx.fillRect(px - 2.5, top, 5, bot - top);
      }
      ctx.strokeStyle = '#111';
      ctx.lineWidth = 1.3;
      ctx.strokeRect(a.left, a.top, a.right - a.left, a.bottom - a.top);
      ctx.lineWidth = 1;
      ctx.beginPath();
      for (let v = Math.ceil(cfg.days[0]); v <= cfg.days[1]; v += 1) {
        const len = v % 5 === 0 ? 6 : 3;
        const px = Math.round(xs.getPixelForValue(v)) + 0.5;
        ctx.moveTo(px, a.bottom); ctx.lineTo(px, a.bottom - len);
        ctx.moveTo(px, a.top); ctx.lineTo(px, a.top + len);
      }
      const yTicks = (ax: AxisCfg, scale: any, side: 'l' | 'r') => {
        const n = Math.round((ax.max - ax.min) / ax.minor);
        for (let i = 0; i <= n; i++) {
          const v = ax.min + i * ax.minor;
          const r = v / ax.step;
          const len = Math.abs(r - Math.round(r)) < 1e-6 ? 6 : 3;
          const py = Math.round(scale.getPixelForValue(v)) + 0.5;
          if (side === 'l') { ctx.moveTo(a.left, py); ctx.lineTo(a.left + len, py); }
          else { ctx.moveTo(a.right, py); ctx.lineTo(a.right - len, py); }
        }
      };
      yTicks(cfg.yL, chart.scales.y, 'l');
      if (cfg.yR) yTicks(cfg.yR, chart.scales.y1, 'r');
      else yTicks(cfg.yL, chart.scales.y, 'r');
      ctx.stroke();
      ctx.restore();
    },
  };
}

function Panel({ cfg }: { cfg: PanelCfg }) {
  const ref = useRef<HTMLCanvasElement>(null);
  useEffect(() => {
    const canvas = ref.current;
    if (!canvas) return;
    const tickFont = { family: FONT, size: 12 };
    const datasets = cfg.series.map((s) => {
      const base: any = {
        data: s.data.map(([x, y]) => ({ x, y })),
        yAxisID: s.axis,
        borderColor: s.line,
        backgroundColor: s.color,
        pointBorderColor: s.color,
        pointBackgroundColor: s.color,
        fill: false,
      };
      if (s.kind === 'line') {
        return { ...base, borderWidth: 1.35, pointRadius: 1.7, pointStyle: 'cross', pointBorderWidth: 1.1, tension: 0 };
      }
      if (s.kind === 'dots') {
        return { ...base, borderWidth: 1.2, pointRadius: 2.2, pointStyle: 'cross', pointBorderWidth: 1.3, tension: 0 };
      }
      return { ...base, borderWidth: 1.5, pointRadius: 0, tension: 0.4 };
    });
    const mkY = (ax: AxisCfg, pos: 'left' | 'right', w: number, pad: number) => ({
      type: 'linear',
      position: pos,
      min: ax.min,
      max: ax.max,
      grid: { display: false, drawTicks: false },
      border: { display: false },
      ticks: {
        stepSize: ax.step,
        padding: pad,
        color: '#333',
        font: tickFont,
        autoSkip: false,
        callback: (v: any) => fmtTick(ax, Number(v)),
      },
      afterFit: (s: any) => { s.width = w; s.paddingTop = 0; s.paddingBottom = 0; },
    });
    const scales: any = {
      x: {
        type: 'linear',
        min: cfg.days[0],
        max: cfg.days[1],
        grid: { display: false, drawTicks: false },
        border: { display: false },
        ticks: {
          display: cfg.xLabels,
          stepSize: 5,
          padding: 12,
          color: '#333',
          font: { family: FONT, size: 12.5 },
          maxRotation: 0,
          autoSkip: false,
          callback: (v: any) => (Number(v) % 5 === 0 ? String(v) : ''),
        },
        afterFit: (s: any) => { s.height = cfg.xH; s.paddingLeft = 0; s.paddingRight = 0; },
      },
      y: mkY(cfg.yL, 'left', cfg.yW, cfg.padL),
    };
    if (cfg.yR) scales.y1 = mkY(cfg.yR, 'right', cfg.rW, cfg.padR);
    const chart = new Chart(canvas, {
      type: 'line',
      data: { datasets },
      options: {
        responsive: false,
        animation: false,
        devicePixelRatio: 1,
        events: [],
        layout: { padding: { top: cfg.padTop, bottom: cfg.padBottom, left: 0, right: cfg.yR ? 0 : cfg.rW } },
        plugins: { legend: { display: false }, tooltip: { enabled: false } },
        scales,
      } as any,
      plugins: [makePlugin(cfg) as any],
    });
    return () => chart.destroy();
  }, [cfg]);
  return (
    <canvas
      ref={ref}
      width={cfg.width}
      height={cfg.height}
      style={{ position: 'absolute', left: cfg.left, top: cfg.top, width: cfg.width, height: cfg.height }}
    />
  );
}

const ROWS = {
  a: { top: 0, height: 156, padTop: 42, padBottom: 4, xH: 0, bandFromTop: false, bandToBottom: true, hGrid: false, xLabels: false },
  b: { top: 156, height: 119, padTop: 4, padBottom: 5, xH: 0, bandFromTop: true, bandToBottom: true, hGrid: false, xLabels: false },
  c: { top: 275, height: 118, padTop: 4, padBottom: 4, xH: 0, bandFromTop: true, bandToBottom: true, hGrid: false, xLabels: false },
  d: { top: 393, height: 275, padTop: 4, padBottom: 0, xH: 50, bandFromTop: true, bandToBottom: false, hGrid: true, xLabels: true },
};
const COLS = {
  I: { left: 90, width: 545, yW: 56, rW: 47, padL: 8, padR: 10, days: daysI, events: eventsI },
  II: { left: 600, width: 545, yW: 50, rW: 53, padL: 10, padR: 11, days: daysII, events: eventsII },
};

function buildPanels(): PanelCfg[] {
  const out: PanelCfg[] = [];
  const sets: Record<string, any> = {
    I: {
      a: [
        { data: vswI, axis: 'y1', color: BLUE, line: BLUE_L, kind: 'line' },
        { data: bI, axis: 'y', color: RED, line: RED_L, kind: 'line' },
        { data: dbI, axis: 'y', color: BLACK, line: BLACK_L, kind: 'line' },
      ],
      b: [
        { data: bLongI, axis: 'y', color: RED, line: RED_L, kind: 'line' },
        { data: bLatI, axis: 'y1', color: BLUE, line: BLUE_L, kind: 'line' },
      ],
      c: [
        { data: tpI, axis: 'y', color: RED, line: RED_L, kind: 'line' },
        { data: npI, axis: 'y1', color: BLUE, line: BLUE_L, kind: 'line' },
      ],
      d: [
        { data: ouluI, axis: 'y', color: RED, line: RED_L, kind: 'dots' },
        { data: psnmI, axis: 'y', color: BLACK, line: BLACK_L, kind: 'dots' },
        { data: nagI, axis: 'y', color: BLUE, line: BLUE_L, kind: 'dots' },
        { data: ouluSmI, axis: 'y', color: RED, line: RED, kind: 'smooth' },
        { data: psnmSmI, axis: 'y', color: BLACK, line: BLACK, kind: 'smooth' },
        { data: nagSmI, axis: 'y', color: BLUE, line: BLUE, kind: 'smooth' },
      ],
    },
    II: {
      a: [
        { data: vswII, axis: 'y1', color: BLUE, line: BLUE_L, kind: 'line' },
        { data: bII, axis: 'y', color: RED, line: RED_L, kind: 'line' },
        { data: dbII, axis: 'y', color: BLACK, line: BLACK_L, kind: 'line' },
      ],
      b: [
        { data: bLongII, axis: 'y', color: RED, line: RED_L, kind: 'line' },
        { data: bLatII, axis: 'y1', color: BLUE, line: BLUE_L, kind: 'line' },
      ],
      c: [
        { data: tpII, axis: 'y', color: RED, line: RED_L, kind: 'line' },
        { data: npII, axis: 'y1', color: BLUE, line: BLUE_L, kind: 'line' },
      ],
      d: [
        { data: ouluII, axis: 'y', color: RED, line: RED_L, kind: 'dots' },
        { data: psnmII, axis: 'y', color: BLACK, line: BLACK_L, kind: 'dots' },
        { data: nagII, axis: 'y', color: BLUE, line: BLUE_L, kind: 'dots' },
        { data: ouluSmII, axis: 'y', color: RED, line: RED, kind: 'smooth' },
        { data: psnmSmII, axis: 'y', color: BLACK, line: BLACK, kind: 'smooth' },
        { data: nagSmII, axis: 'y', color: BLUE, line: BLUE, kind: 'smooth' },
      ],
    },
  };
  const axes: Record<string, [AxisCfg, AxisCfg | undefined]> = {
    a: [bTicks, vTicks], b: [longTicks, latTicks], c: [tpTicks, npTicks], d: [iTicks, undefined],
  };
  (['I', 'II'] as const).forEach((ck) => {
    (['a', 'b', 'c', 'd'] as const).forEach((rk) => {
      const col = COLS[ck];
      const row = ROWS[rk];
      out.push({
        key: ck + rk,
        ...row,
        left: col.left, width: col.width, yW: col.yW, rW: col.rW, padL: col.padL, padR: col.padR,
        days: col.days, events: col.events,
        yL: axes[rk][0], yR: axes[rk][1],
        series: sets[ck][rk],
      });
    });
  });
  return out;
}

const PANELS = buildPanels();

const abs = (s: React.CSSProperties): React.CSSProperties => ({ position: 'absolute', whiteSpace: 'nowrap', ...s });
const rotL = (cx: number, cy: number): React.CSSProperties =>
  abs({ left: cx, top: cy, transform: 'translate(-50%, -50%) rotate(-90deg)', fontSize: 23, lineHeight: '26px' });
const rotR = (cx: number, cy: number): React.CSSProperties =>
  abs({ left: cx, top: cy, transform: 'translate(-50%, -50%) rotate(90deg)', fontSize: 23, lineHeight: '26px' });

export default function App() {
  const legend = (x0: number[], top: number) => (
    <>
      <div style={abs({ left: x0[0], top, fontSize: 16, fontWeight: 'bold', color: RED, lineHeight: '18px' })}>OULU× 1.0</div>
      <div style={abs({ left: x0[1], top, fontSize: 16, fontWeight: 'bold', color: BLACK, lineHeight: '18px' })}>PSNM× 2.2</div>
      <div style={abs({ left: x0[2], top, fontSize: 16, fontWeight: 'bold', color: BLUE, lineHeight: '18px' })}>Nag.V× 3.2</div>
    </>
  );
  return (
    <div style={{ position: 'absolute', left: 0, top: 0, width: 1167, height: 668, background: '#fff', overflow: 'hidden', fontFamily: FONT, color: '#111' }}>
      {PANELS.map((p) => <Panel key={p.key} cfg={p} />)}

      <div style={abs({ left: 146, width: 442, top: -3, textAlign: 'center', fontWeight: 'bold', lineHeight: '36px' })}>
        <span style={{ fontSize: 33 }}>Period I</span><span style={{ fontSize: 21 }}> (13 Jul. - 9 Aug., 2012)</span>
      </div>
      <div style={abs({ left: 650, width: 442, top: -3, textAlign: 'center', fontWeight: 'bold', lineHeight: '36px' })}>
        <span style={{ fontSize: 33 }}>Period II</span><span style={{ fontSize: 21 }}> (17 Jan. - 13 Feb., 2012)</span>
      </div>

      <div style={abs({ left: 6, top: 72, fontSize: 40, lineHeight: '44px' })}>(a)</div>
      <div style={abs({ left: 6, top: 192, fontSize: 40, lineHeight: '44px' })}>(b)</div>
      <div style={abs({ left: 6, top: 301, fontSize: 40, lineHeight: '44px' })}>(c)</div>
      <div style={abs({ left: 6, top: 484, fontSize: 40, lineHeight: '44px' })}>(d)</div>

      <div style={rotL(86, 92)}><i>B</i> (nT)</div>
      <div style={rotL(86, 213)}><i>B</i>-long. (°)</div>
      <div style={rotL(86, 320)}><i>T<sub style={{ fontSize: 16 }}>p</sub></i> (K)</div>
      <div style={rotL(83, 512)}><i>Ī<sub style={{ fontSize: 16 }}>i,j</sub></i> (%)</div>

      <div style={rotR(1148, 93)}><i>V<sub style={{ fontSize: 16 }}>sw</sub></i> (km/s)</div>
      <div style={rotR(1148, 225)}><i>B</i>-lat. (°)</div>
      <div style={rotR(1148, 335)}><i>n<sub style={{ fontSize: 16 }}>p</sub></i> (/cc)</div>

      {legend([233, 336, 437], 407)}
      {legend([745, 848, 948], 407)}

      <div style={abs({ right: 1167 - 1084, top: 456, fontSize: 20, lineHeight: '22px', color: RED })}>14.9 <i>GV</i></div>
      <div style={abs({ right: 1167 - 1084, top: 504, fontSize: 20, lineHeight: '22px', color: BLACK })}>34.6 <i>GV</i></div>
      <div style={abs({ right: 1167 - 1084, top: 551, fontSize: 20, lineHeight: '22px', color: BLUE })}>58.4 <i>GV</i></div>

      <div style={abs({ left: 367, top: 634, fontSize: 26, lineHeight: '30px', transform: 'translateX(-50%)' })}>doy</div>
      <div style={abs({ left: 871, top: 634, fontSize: 26, lineHeight: '30px', transform: 'translateX(-50%)' })}>doy</div>
    </div>
  );
}
